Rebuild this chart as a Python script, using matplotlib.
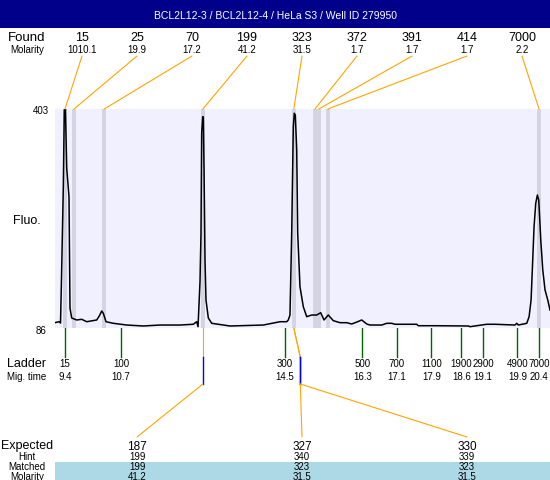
import matplotlib
matplotlib.use('Agg')
import matplotlib.pyplot as plt
from matplotlib.patches import Rectangle, ConnectionPatch
from matplotlib.transforms import blended_transform_factory

plt.rcParams['font.family'] = ['Liberation Sans', 'DejaVu Sans']

title = 'BCL2L12-3 / BCL2L12-4 / HeLa S3 / Well ID 279950'

# trace (migration time in s, fluorescence)
mig_time = [9.168, 9.261, 9.296, 9.319, 9.361, 9.384, 9.41, 9.44, 9.493, 9.516,
            9.555, 9.672, 9.788, 9.904, 10.136, 10.196, 10.252, 10.289, 10.352, 10.521,
            10.832, 11.217, 11.605, 12.069, 12.377, 12.456, 12.487, 12.533, 12.556, 12.572,
            12.596, 12.61, 12.626, 12.649, 12.672, 12.726, 12.805, 13.229, 14.002, 14.39,
            14.545, 14.582, 14.621, 14.661, 14.698, 14.721, 14.745, 14.777, 14.8, 14.853,
            14.93, 15.009, 15.125, 15.241, 15.334, 15.411, 15.51, 15.626, 15.782, 15.937,
            16.053, 16.176, 16.286, 16.402, 16.478, 16.75, 16.866, 16.982, 17.058, 17.562,
            17.599, 18.026, 18.76, 18.799, 19.187, 19.379, 19.843, 19.883, 19.922, 20.037,
            20.116, 20.17, 20.216, 20.254, 20.285, 20.324, 20.362, 20.394, 20.441, 20.487,
            20.54, 20.603, 20.655]
fluo = [93.7, 95.1, 93.2, 158.4, 290.5, 401.6, 403.0, 317.6, 276.0, 115.0,
        100.5, 97.6, 98.6, 95.1, 97.6, 103.4, 110.6, 107.3, 95.1, 92.8,
        90.3, 88.9, 90.3, 90.3, 91.4, 95.1, 87.9, 153.0, 223.5, 368.3,
        391.9, 391.4, 319.5, 184.4, 126.5, 100.5, 92.8, 88.9, 90.3, 95.1,
        95.1, 97.6, 104.8, 223.5, 377.4, 396.8, 394.3, 343.7, 223.5, 145.8,
        116.8, 102.4, 104.8, 104.8, 108.1, 97.6, 104.8, 96.6, 93.7, 93.7,
        91.8, 94.7, 97.6, 91.8, 90.3, 90.3, 92.8, 92.8, 91.4, 91.4,
        89.3, 89.3, 88.9, 87.9, 91.4, 91.4, 90.3, 92.8, 90.3, 91.8,
        92.8, 102.4, 126.5, 184.4, 232.6, 266.5, 278.5, 271.3, 213.4, 170.0,
        141.0, 126.5, 112.0]
fluo_min, fluo_max = 86, 403

found_size = [15, 25, 70, 199, 323, 372, 391, 414, 7000]
found_molarity = ['1010.1', '19.9', '17.2', '41.2', '31.5', '1.7', '1.7', '1.7', '2.2']
found_time = [9.40, 9.61, 10.31, 12.60, 14.71, 15.20, 15.29, 15.50, 20.40]

ladder_size = [15, 100, 300, 500, 700, 1100, 1900, 2900, 4900, 7000]
ladder_time = [9.4, 10.7, 14.5, 16.3, 17.1, 17.9, 18.6, 19.1, 19.9, 20.4]

expected = [187, 327, 330]
hint = [199, 340, 339]
matched = [199, 323, 323]
matched_molarity = ['41.2', '31.5', '31.5']
matched_time = [12.60, 14.71, 14.71]
hint_time = [12.60, 14.86, 14.86]
expected_col = [1, 4, 7]

ORANGE = '#FFA500'
BG = '#F0F0FF'
BAND = '#D4D4E2'

fig = plt.figure(figsize=(5.5, 4.8), dpi=100)

# overlay in pixel coordinates for the labels
ov = fig.add_axes([0, 0, 1, 1])
ov.set_xlim(0, 550)
ov.set_ylim(480, 0)
ov.axis('off')

# plot area
ax = fig.add_axes([55 / 550, (480 - 328) / 480, 495 / 550, 219 / 480])
ax.set_xlim(9.168, 20.655)
ax.set_ylim(fluo_min, fluo_max)
ax.set_facecolor(BG)
for s in ax.spines.values():
    s.set_visible(False)
ax.set_xticks([])
ax.set_yticks([])
for t in found_time:
    ax.axvspan(t - 0.05, t + 0.05, color=BAND, lw=0)
ax.plot(mig_time, fluo, color='black', lw=1.1)

bt = blended_transform_factory(ax.transData, ov.transData)


def col_x(i):
    return 82 + 55 * i


# title bar
ov.add_patch(Rectangle((0, 0), 550, 28, color='#00008B', lw=0))
ov.text(275, 19, title, color='white', fontsize=7.5, ha='center', va='baseline')

# found rows
ov.text(27, 41, 'Found', fontsize=9.5, ha='center', va='baseline')
ov.text(27, 53, 'Molarity', fontsize=7, ha='center', va='baseline')
for i, (sz, mol, t) in enumerate(zip(found_size, found_molarity, found_time)):
    ov.text(col_x(i), 41, str(sz), fontsize=9, ha='center', va='baseline')
    ov.text(col_x(i), 53, mol, fontsize=7, ha='center', va='baseline')
    con = ConnectionPatch(xyA=(col_x(i), 56), coordsA=ov.transData,
                          xyB=(t, fluo_max), coordsB=ax.transData,
                          color=ORANGE, lw=0.8, arrowstyle='-')
    fig.add_artist(con)

# y labels
ov.text(49, 114, str(fluo_max), fontsize=7, ha='right', va='baseline')
ov.text(47, 334, str(fluo_min), fontsize=7, ha='right', va='baseline')
ov.text(27, 224, 'Fluo.', fontsize=9, ha='center', va='baseline')

# ladder
ov.text(27, 367, 'Ladder', fontsize=9, ha='center', va='baseline')
ov.text(27, 380, 'Mig. time', fontsize=7, ha='center', va='baseline')
for sz, t in zip(ladder_size, ladder_time):
    ov.plot([t, t], [328, 357], color='#006400', lw=1, transform=bt, clip_on=False)
    ov.text(t, 367, str(sz), fontsize=7, ha='center', va='baseline', transform=bt)
    ov.text(t, 380, f'{t:.1f}', fontsize=7, ha='center', va='baseline', transform=bt)

# expected connections
for mt, ht, c in zip(matched_time, hint_time, expected_col):
    ov.plot([mt, ht], [328, 357], color=ORANGE, lw=0.8, transform=bt, clip_on=False)
    ov.plot([ht, ht], [357, 384], color='blue', lw=1, transform=bt, clip_on=False)
    con = ConnectionPatch(xyA=(ht, 384), coordsA=bt,
                          xyB=(col_x(c), 437), coordsB=ov.transData,
                          color=ORANGE, lw=0.8, arrowstyle='-')
    fig.add_artist(con)

# expected table
ov.add_patch(Rectangle((55, 462), 495, 18, color='#ADD8E6', lw=0))
ov.text(27, 449.5, 'Expected', fontsize=9, ha='center', va='baseline')
ov.text(27, 460, 'Hint', fontsize=7, ha='center', va='baseline')
ov.text(27, 470.5, 'Matched', fontsize=7, ha='center', va='baseline')
ov.text(27, 479.5, 'Molarity', fontsize=7, ha='center', va='baseline')
for e, h, m, mol, c in zip(expected, hint, matched, matched_molarity, expected_col):
    ov.text(col_x(c), 450.5, str(e), fontsize=8.5, ha='center', va='baseline')
    ov.text(col_x(c), 460, str(h), fontsize=7, ha='center', va='baseline')
    ov.text(col_x(c), 470.5, str(m), fontsize=7, ha='center', va='baseline')
    ov.text(col_x(c), 479.5, mol, fontsize=7, ha='center', va='baseline')

fig.savefig('out.png', dpi=100)
